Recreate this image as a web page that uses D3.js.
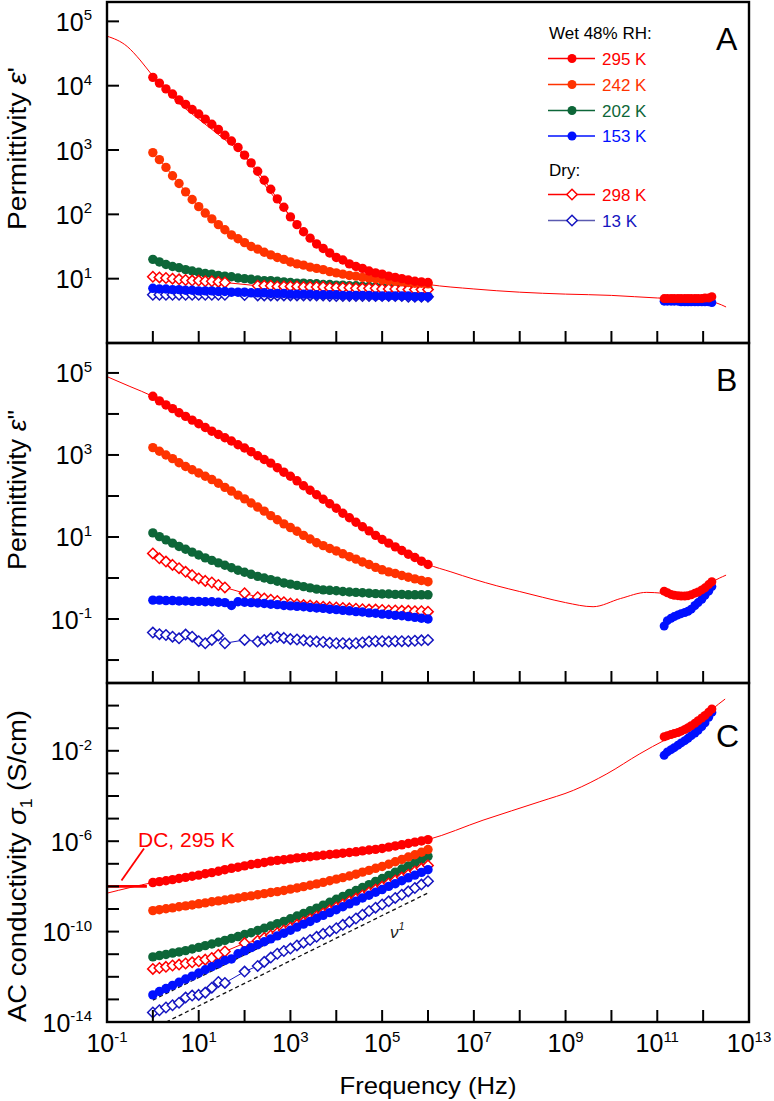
<!DOCTYPE html>
<html><head><meta charset="utf-8">
<script src="https://cdn.jsdelivr.net/npm/d3@7"></script>
<style>body{margin:0;background:#fff}text{font-family:Arial,"Liberation Sans",sans-serif}</style>
</head><body><svg id="chart" width="774" height="1101"></svg>
<script>
// ---- data (log10 values) ----
const LOGF = [0,0.143,0.286,0.429,0.571,0.714,0.857,1,1.143,1.286,1.429,1.571,1.714,1.857,2,2.143,2.286,2.429,2.571,2.714,2.857,3,3.143,3.286,3.429,3.571,3.714,3.857,4,4.143,4.286,4.429,4.571,4.714,4.857,5,5.143,5.286,5.429,5.571,5.714,5.857,6];
const THZF = [11.15,11.22,11.30,11.37,11.45,11.52,11.60,11.67,11.74,11.82,11.89,11.97,12.04,12.12,12.19];

const A295 = [4.13,4.04,3.95,3.87,3.78,3.71,3.63,3.56,3.48,3.40,3.32,3.23,3.14,3.04,2.92,2.80,2.67,2.53,2.39,2.24,2.11,1.96,1.84,1.73,1.63,1.54,1.47,1.40,1.33,1.29,1.23,1.19,1.16,1.12,1.09,1.07,1.04,1.02,1.00,0.98,0.96,0.95,0.94];
const A242 = [2.96,2.85,2.73,2.60,2.48,2.35,2.23,2.12,2.02,1.93,1.84,1.76,1.68,1.62,1.56,1.50,1.46,1.41,1.37,1.33,1.30,1.26,1.23,1.21,1.18,1.16,1.14,1.11,1.09,1.07,1.05,1.04,1.02,1.01,1.00,0.98,0.97,0.96,0.95,0.94,0.93,0.93,0.92];
const A202 = [1.30,1.26,1.22,1.19,1.17,1.14,1.12,1.10,1.08,1.07,1.05,1.04,1.03,1.01,1.00,0.99,0.98,0.97,0.97,0.96,0.95,0.94,0.93,0.93,0.92,0.92,0.91,0.91,0.90,0.90,0.89,0.89,0.88,0.88,0.87,0.87,0.86,0.86,0.86,0.85,0.85,0.85,0.85];
const A153 = [0.85,0.84,0.84,0.83,0.83,0.82,0.82,0.81,0.81,0.81,0.80,0.80,0.79,0.79,0.79,0.78,0.78,0.78,0.77,0.77,0.77,0.76,0.76,0.76,0.76,0.75,0.75,0.75,0.75,0.74,0.74,0.74,0.74,0.74,0.73,0.73,0.73,0.73,0.73,0.73,0.72,0.72,0.72];
const A298d = [1.03,1.02,1.01,1.00,0.99,0.98,0.97,0.97,0.96,0.96,0.95,0.94,null,null,null,null,0.89,0.89,0.89,0.88,0.88,0.88,0.88,0.87,0.87,0.87,0.87,0.86,0.86,0.86,0.86,0.85,0.85,0.85,0.85,0.84,0.84,0.84,0.84,0.83,0.83,0.83,0.83];
const A13d = [0.75,0.75,0.75,0.75,0.75,0.75,0.75,0.75,0.75,0.75,0.75,0.75,null,null,0.745,null,0.74,0.74,0.74,0.74,0.74,0.74,0.74,0.74,0.74,0.74,0.74,0.73,0.73,0.73,0.73,0.73,0.73,0.73,0.73,0.73,0.73,0.73,0.73,0.72,0.72,0.72,0.72];

const B295 = [4.43,4.32,4.22,4.13,4.03,3.94,3.85,3.76,3.67,3.58,3.50,3.42,3.34,3.25,3.17,3.08,2.98,2.89,2.80,2.69,2.58,2.48,2.37,2.25,2.14,2.03,1.92,1.81,1.70,1.58,1.47,1.36,1.25,1.15,1.04,0.94,0.85,0.76,0.67,0.58,0.50,0.41,0.33];
const B242 = [3.18,3.09,3.00,2.91,2.81,2.72,2.64,2.56,2.48,2.40,2.31,2.21,2.12,2.02,1.93,1.83,1.73,1.63,1.52,1.42,1.32,1.23,1.14,1.04,0.95,0.86,0.79,0.72,0.66,0.59,0.52,0.46,0.39,0.33,0.26,0.20,0.15,0.11,0.06,0.02,-0.02,-0.06,-0.09];
const B202 = [1.10,1.01,0.93,0.85,0.77,0.70,0.63,0.56,0.49,0.43,0.37,0.31,0.25,0.19,0.14,0.09,0.04,0.00,-0.04,-0.08,-0.12,-0.15,-0.18,-0.21,-0.24,-0.27,-0.29,-0.30,-0.31,-0.33,-0.34,-0.35,-0.36,-0.37,-0.38,-0.39,-0.39,-0.40,-0.40,-0.41,-0.41,-0.41,-0.41];
const B153 = [-0.54,-0.54,-0.55,-0.55,-0.56,-0.56,-0.57,-0.57,-0.58,-0.58,-0.59,-0.60,-0.67,-0.58,-0.59,-0.60,-0.61,-0.62,-0.64,-0.65,-0.67,-0.68,-0.69,-0.70,-0.72,-0.73,-0.74,-0.76,-0.77,-0.79,-0.80,-0.82,-0.83,-0.85,-0.86,-0.88,-0.89,-0.91,-0.92,-0.94,-0.96,-0.98,-1.00];
const B298d = [0.60,0.48,0.40,0.32,0.24,0.15,0.07,-0.01,-0.07,-0.11,-0.17,-0.23,null,null,-0.37,null,-0.47,-0.50,-0.53,-0.56,-0.59,-0.62,-0.64,-0.66,-0.67,-0.69,-0.70,-0.71,-0.72,-0.73,-0.74,-0.75,-0.76,-0.77,-0.77,-0.78,-0.79,-0.79,-0.80,-0.80,-0.81,-0.81,-0.82];
const B13d = [-1.33,-1.37,-1.39,-1.43,-1.47,-1.38,-1.43,-1.54,-1.59,-1.51,-1.40,-1.59,null,null,-1.51,null,-1.55,-1.51,-1.47,-1.44,-1.46,-1.49,-1.50,-1.52,-1.54,-1.55,-1.56,-1.58,-1.59,-1.59,-1.60,-1.59,-1.57,-1.55,-1.54,-1.54,-1.55,-1.54,-1.54,-1.54,-1.53,-1.52,-1.51];

const C295 = [-7.83,-7.79,-7.75,-7.70,-7.65,-7.60,-7.55,-7.50,-7.44,-7.39,-7.33,-7.26,-7.20,-7.15,-7.09,-7.03,-6.99,-6.94,-6.88,-6.85,-6.82,-6.78,-6.74,-6.72,-6.69,-6.65,-6.62,-6.59,-6.56,-6.53,-6.50,-6.47,-6.43,-6.39,-6.36,-6.32,-6.26,-6.21,-6.16,-6.10,-6.04,-5.99,-5.93];
const C242 = [-9.07,-9.03,-8.99,-8.95,-8.90,-8.86,-8.82,-8.77,-8.73,-8.68,-8.64,-8.60,-8.55,-8.51,-8.46,-8.42,-8.37,-8.32,-8.27,-8.23,-8.18,-8.12,-8.07,-8.01,-7.95,-7.89,-7.82,-7.75,-7.68,-7.61,-7.54,-7.46,-7.37,-7.29,-7.20,-7.12,-7.02,-6.91,-6.81,-6.70,-6.60,-6.49,-6.37];
const C202 = [-11.12,-11.06,-11.01,-10.95,-10.90,-10.84,-10.77,-10.70,-10.62,-10.55,-10.47,-10.39,-10.30,-10.22,-10.13,-10.05,-9.95,-9.85,-9.75,-9.65,-9.55,-9.43,-9.31,-9.20,-9.08,-8.96,-8.83,-8.70,-8.57,-8.44,-8.31,-8.18,-8.05,-7.92,-7.78,-7.65,-7.51,-7.37,-7.23,-7.09,-6.95,-6.81,-6.67];
const C153 = [-12.80,-12.65,-12.52,-12.38,-12.24,-12.10,-11.97,-11.83,-11.69,-11.55,-11.42,-11.28,-11.21,-10.98,-10.85,-10.71,-10.58,-10.45,-10.32,-10.19,-10.07,-9.94,-9.80,-9.67,-9.55,-9.41,-9.28,-9.16,-9.03,-8.90,-8.77,-8.65,-8.51,-8.39,-8.26,-8.14,-8.00,-7.88,-7.75,-7.62,-7.50,-7.38,-7.26];
const C298d = [-11.65,-11.61,-11.56,-11.50,-11.46,-11.41,-11.36,-11.31,-11.24,-11.17,-11.02,-10.88,null,null,-10.51,null,-10.40,-10.28,-10.17,-10.06,-9.95,-9.83,-9.70,-9.58,-9.45,-9.33,-9.20,-9.06,-8.93,-8.80,-8.67,-8.54,-8.40,-8.27,-8.14,-8.01,-7.87,-7.74,-7.61,-7.48,-7.34,-7.21,-7.07];
const C13d = [-13.58,-13.48,-13.36,-13.26,-13.15,-12.92,-12.83,-12.80,-12.70,-12.48,-12.23,-12.27,null,null,-11.77,null,-11.52,-11.34,-11.15,-10.98,-10.86,-10.75,-10.61,-10.49,-10.37,-10.23,-10.10,-9.98,-9.85,-9.70,-9.57,-9.42,-9.25,-9.09,-8.94,-8.80,-8.66,-8.51,-8.37,-8.22,-8.07,-7.92,-7.77];

const thzA295 = [0.69,0.69,0.69,0.69,0.69,0.69,0.69,0.69,0.69,0.69,0.69,0.69,0.70,0.70,0.72];
const thzA153 = [0.65,0.65,0.65,0.65,0.65,0.64,0.64,0.64,0.64,0.64,0.64,0.64,0.64,0.64,0.63];
const thzB295 = [-0.32,-0.36,-0.40,-0.42,-0.43,-0.44,-0.44,-0.43,-0.41,-0.37,-0.34,-0.29,-0.24,-0.16,-0.09];
const thzB153 = [-1.17,-1.04,-0.98,-0.94,-0.90,-0.87,-0.84,-0.81,-0.76,-0.67,-0.60,-0.52,-0.42,-0.32,-0.21];
const thzC295 = [-1.38,-1.33,-1.28,-1.24,-1.19,-1.13,-1.06,-0.98,-0.89,-0.78,-0.67,-0.55,-0.44,-0.29,-0.15];
const thzC153 = [-2.20,-2.05,-1.95,-1.86,-1.75,-1.65,-1.55,-1.45,-1.33,-1.21,-1.09,-0.93,-0.76,-0.52,-0.30];

// fit curves: [log f, log value]
const fitA = [[-1,4.77],[-0.56,4.61],[-0.28,4.40],[0,4.15],[0.5,3.77],[1,3.48],[1.5,3.20],[2,2.90],[2.5,2.40],[3,1.97],[3.5,1.58],[4,1.32],[4.5,1.15],[5,1.04],[5.5,0.97],[6,0.91],[7,0.84],[8,0.79],[9,0.76],[10,0.74],[10.5,0.72],[11,0.70],[11.5,0.69],[12,0.66],[12.3,0.62],[12.5,0.56]];
const fitB = [[-1,4.91],[-0.5,4.67],[0,4.43],[1,3.76],[2,3.17],[3,2.48],[4,1.70],[5,0.94],[6,0.33],[6.5,0.15],[7,-0.03],[7.5,-0.19],[8,-0.33],[8.5,-0.47],[9,-0.60],[9.6,-0.70],[10.2,-0.50],[10.77,-0.35],[11.1,-0.37],[11.5,-0.42],[11.8,-0.38],[12.0,-0.27],[12.2,-0.10],[12.5,0.07]];
const fitC = [[-1,-8.30],[0,-7.83],[1,-7.50],[2,-7.09],[3,-6.78],[4,-6.56],[5,-6.32],[6,-5.93],[7.2,-5.07],[8.44,-4.25],[9.17,-3.75],[9.9,-3.02],[10.62,-2.13],[11.17,-1.52],[11.57,-1.15],[12.0,-0.55],[12.19,-0.18],[12.48,0.29]];
const dcLine = [[-1,-8.0],[-0.13,-8.0]];
const nuLines = [[[0,-13.03],[6,-7.03]],[[0.29,-14.0],[6,-8.29]]];

const legendLabels = ["295 K","242 K","202 K","153 K","298 K","13 K"];
const xTickExps = [-1,1,3,5,7,9,11,13];

// ---- setup ----
const svg = d3.select("#chart");
const L = 107, R = 749;
const x = d3.scaleLog().domain([1e-1, 1e13]).range([L, R]);
const P = (v) => Math.pow(10, v);

const panels = [
  {id:"A", top:2, bottom:343, dom:[1, 2e5], ticks:[1,2,3,4,5], labels:[1,2,3,4,5]},
  {id:"B", top:343, bottom:683, dom:[P(-2.56), P(5.73)], ticks:[-2,-1,0,1,2,3,4,5], labels:[-1,1,3,5]},
  {id:"C", top:683, bottom:1022, dom:[1e-14, 10], ticks:[-13,-12,-11,-10,-9,-8,-7,-6,-5,-4,-3,-2,-1,0], labels:[-14,-10,-6,-2]}
];
panels.forEach(p => p.y = d3.scaleLog().domain(p.dom).range([p.bottom, p.top]));

const S = [
  {lab:"295 K", color:"#ff0000", shape:"c", A:A295, B:B295, C:C295},
  {lab:"242 K", color:"#ff3300", shape:"c", A:A242, B:B242, C:C242},
  {lab:"202 K", color:"#0d6638", shape:"c", A:A202, B:B202, C:C202},
  {lab:"153 K", color:"#0010ff", shape:"c", A:A153, B:B153, C:C153},
  {lab:"298 K", color:"#ff0000", shape:"d", A:A298d, B:B298d, C:C298d},
  {lab:"13 K", color:"#1515c0", shape:"d", A:A13d, B:B13d, C:C13d}
];
const drawOrder = [5,2,4,3,1,0];
const thz = {A:[thzA295, thzA153], B:[thzB295, thzB153], C:[thzC295, thzC153]};
const fits = {A:fitA, B:fitB, C:fitC};

const defs = svg.append("defs");
function diamond(g, cx, cy, color) {
  const s = 5.2;
  g.append("path").attr("d", `M${cx},${cy-s}L${cx+s},${cy}L${cx},${cy+s}L${cx-s},${cy}Z`)
    .attr("fill", "#fff").attr("stroke", color).attr("stroke-width", 1.5);
}
function powLabel(t, e) {
  t.append("tspan").text("10");
  t.append("tspan").attr("font-size", 15).attr("dy", -10.5).text(e < 0 ? "-" + (-e) : String(e));
}

panels.forEach(p => {
  defs.append("clipPath").attr("id", "clip" + p.id).append("rect")
    .attr("x", L).attr("y", p.top).attr("width", R - L).attr("height", p.bottom - p.top);
  const g = svg.append("g").attr("clip-path", `url(#clip${p.id})`);
  const y = p.y;
  const line = d3.line().x(d => x(P(d[0]))).y(d => y(P(d[1])));

  g.append("path").attr("d", line.curve(d3.curveMonotoneX)(fits[p.id]))
    .attr("fill", "none").attr("stroke", "#ff0000").attr("stroke-width", 1);
  line.curve(d3.curveLinear);

  if (p.id === "C") {
    nuLines.forEach(nl => g.append("path").attr("d", line(nl)).attr("fill","none")
      .attr("stroke","#111").attr("stroke-width",1.3).attr("stroke-dasharray","4,3"));
    g.append("path").attr("d", line(dcLine)).attr("stroke","#ff0000").attr("stroke-width",2.6).attr("fill","none");
  }

  drawOrder.forEach(si => {
    const s = S[si];
    const pts = s[p.id].map((v, i) => [LOGF[i], v]).filter(d => d[1] !== null);
    g.append("path").attr("d", line(pts)).attr("fill","none").attr("stroke", s.color).attr("stroke-width", 1);
    pts.forEach(d => {
      const cx = x(P(d[0])), cy = y(P(d[1]));
      if (s.shape === "c") g.append("circle").attr("cx", cx).attr("cy", cy).attr("r", 4.7).attr("fill", s.color);
      else diamond(g, cx, cy, s.color);
    });
  });

  [[1,"#0010ff"],[0,"#ff0000"]].forEach(([k, col]) => {
    const pts = thz[p.id][k].map((v,i) => [THZF[i], v]);
    g.append("path").attr("d", line(pts)).attr("fill","none").attr("stroke",col).attr("stroke-width",2);
    pts.forEach(d => g.append("circle").attr("cx", x(P(d[0]))).attr("cy", y(P(d[1]))).attr("r", 4.5).attr("fill", col));
  });

  svg.append("rect").attr("x", L).attr("y", p.top).attr("width", R - L).attr("height", p.bottom - p.top)
    .attr("fill","none").attr("stroke","#000").attr("stroke-width",2.4);
  for (let e = 0; e <= 12; e++) {
    svg.append("line").attr("x1", x(P(e))).attr("x2", x(P(e))).attr("y1", p.bottom).attr("y2", p.bottom - 12)
      .attr("stroke","#000").attr("stroke-width",2);
  }
  p.ticks.forEach(e => {
    svg.append("line").attr("x1", L).attr("x2", L + 12).attr("y1", y(P(e))).attr("y2", y(P(e)))
      .attr("stroke","#000").attr("stroke-width",2);
  });
  p.labels.forEach(e => {
    const t = svg.append("text").attr("x", 92).attr("y", y(P(e)) + 9.5).attr("text-anchor","end")
      .attr("font-size", 25).attr("fill","#000");
    powLabel(t, e);
  });
});

xTickExps.forEach(e => {
  const t = svg.append("text").attr("x", x(P(e))).attr("y", 1052).attr("text-anchor","middle")
    .attr("font-size", 25).attr("fill","#000");
  powLabel(t, e);
});

svg.append("text").attr("x", 428).attr("y", 1094).attr("text-anchor","middle").attr("font-size", 24)
  .attr("textLength", 177).attr("lengthAdjust","spacingAndGlyphs").text("Frequency (Hz)");

function ytitle(cy, len, build) {
  const t = svg.append("text").attr("transform", `translate(26,${cy}) rotate(-90)`).attr("text-anchor","middle")
    .attr("font-size", 25).attr("textLength", len).attr("lengthAdjust","spacingAndGlyphs");
  build(t);
}
ytitle(148.5, 163, t => { t.append("tspan").text("Permittivity "); t.append("tspan").attr("font-style","italic").text("ε"); t.append("tspan").text("'"); });
ytitle(490, 160, t => { t.append("tspan").text("Permittivity "); t.append("tspan").attr("font-style","italic").text("ε"); t.append("tspan").text("\""); });
ytitle(866, 312, t => { t.append("tspan").text("AC conductivity "); t.append("tspan").attr("font-style","italic").text("σ");
  t.append("tspan").attr("font-size", 16).attr("dy", 6).text("1"); t.append("tspan").attr("dy", -6).text(" (S/cm)"); });

[["A",50],["B",391],["C",747]].forEach(([l, yy]) => svg.append("text").attr("x", 716).attr("y", yy).attr("font-size", 32).text(l));

const lg = svg.append("g");
lg.append("text").attr("x", 549).attr("y", 39).attr("font-size", 17).text("Wet 48% RH:");
lg.append("text").attr("x", 549).attr("y", 176).attr("font-size", 17).text("Dry:");
const legY = [58.5, 84.5, 110.5, 136, 194.5, 220.5];
const legLine = ["#ff0000","#ff3300","#0d6638","#0010ff","#ff0000","#5a5ab0"];
S.forEach((s, i) => {
  const yy = legY[i];
  lg.append("line").attr("x1", 548).attr("x2", 595).attr("y1", yy).attr("y2", yy).attr("stroke", legLine[i]).attr("stroke-width", 1.3);
  if (s.shape === "c") lg.append("circle").attr("cx", 572).attr("cy", yy).attr("r", 4.5).attr("fill", s.color);
  else diamond(lg, 572, yy, s.color);
  lg.append("text").attr("x", 602).attr("y", yy + 6.3).attr("font-size", 17).attr("fill", s.color).text(legendLabels[i]);
});

svg.append("line").attr("x1", 121.5).attr("y1", 880.5).attr("x2", 144).attr("y2", 848.5).attr("stroke","#ff0000").attr("stroke-width",1.8);
svg.append("text").attr("x", 138).attr("y", 846.5).attr("font-size", 21).attr("fill","#ff0000").text("DC, 295 K");
const nu = svg.append("text").attr("x", 390).attr("y", 938).attr("font-size", 17).attr("fill","#222")
  .attr("font-family","'Liberation Serif','DejaVu Serif',serif").attr("font-style","italic");
nu.append("tspan").text("ν");
nu.append("tspan").attr("font-size", 11).attr("dy", -8).text("1");
</script></body></html>
